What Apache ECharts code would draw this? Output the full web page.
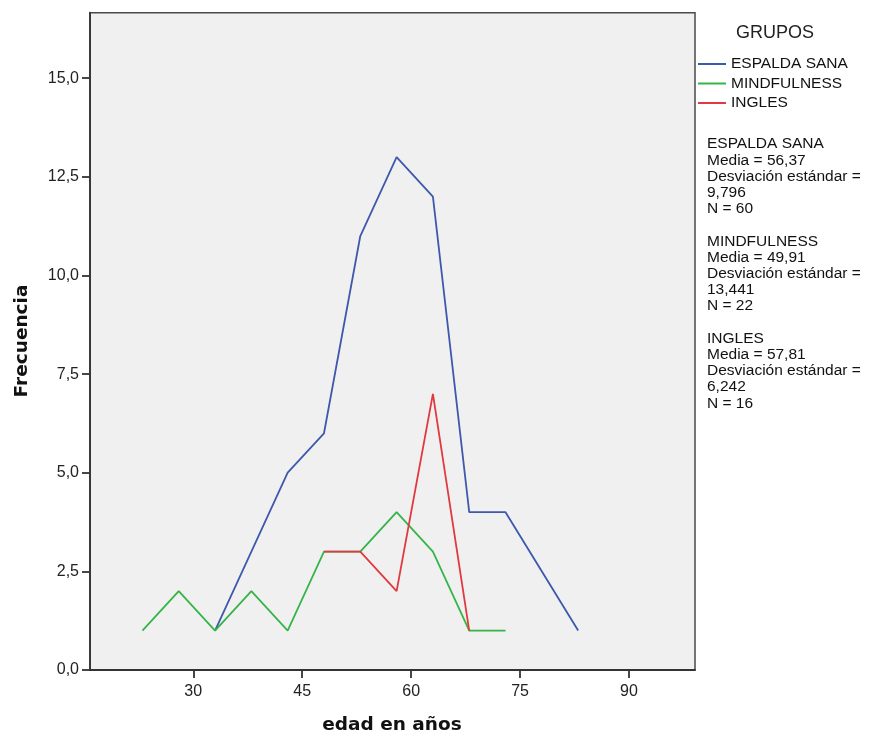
<!DOCTYPE html>
<html>
<head>
<meta charset="utf-8">
<script src="https://cdn.jsdelivr.net/npm/echarts@6/dist/echarts.min.js"></script>
<style>html,body{margin:0;padding:0;background:#fff}#c{width:873px;height:738px}</style>
</head>
<body>
<div id="c"></div>
<script>
// Age bin midpoints (edad en años)
var ageBins = [23, 28, 33, 38, 43, 48, 53, 58, 63, 68, 73, 78, 83];
// Frequencies per group (null = empty bin, not drawn)
var espaldaSana = [null, null, 1, 3, 5, 6, 11, 13, 12, 4, 4, null, 1];
var mindfulness = [1, 2, 1, 2, 1, 3, 3, 4, 3, 1, 1, null, null];
var ingles = [null, null, null, null, null, 3, 3, 2, 7, 1, null, null, null];
var groupNames = ['ESPALDA SANA', 'MINDFULNESS', 'INGLES'];
var xTicks = [30, 45, 60, 75, 90];
var yTicks = [0, 2.5, 5, 7.5, 10, 12.5, 15];
var statsLines = [
  'ESPALDA SANA', 'Media = 56,37', 'Desviación estándar =', '9,796', 'N = 60', '',
  'MINDFULNESS', 'Media = 49,91', 'Desviación estándar =', '13,441', 'N = 22', '',
  'INGLES', 'Media = 57,81', 'Desviación estándar =', '6,242', 'N = 16'
];

function pairs(vals) {
  var out = [];
  for (var i = 0; i < ageBins.length; i++) {
    if (vals[i] !== null) out.push([ageBins[i], vals[i]]);
  }
  return out;
}

var chart = echarts.init(document.getElementById('c'), null, {renderer: 'canvas'});
var font = '"Liberation Sans", Arial, sans-serif';
var colors = ['#3E58AC', '#35B548', '#E0393E'];

chart.setOption({
  animation: false,
  backgroundColor: '#ffffff',
  grid: {
    left: 90, top: 12.7, right: 178, bottom: 68,
    show: true, backgroundColor: '#f0f0f0',
    borderColor: '#4a4a4a', borderWidth: 1.5
  },
  xAxis: {
    type: 'value', min: 15.78, max: 99.09,
    splitLine: {show: false},
    axisLine: {lineStyle: {color: '#333', width: 1.8}},
    axisTick: {show: true, length: 8, customValues: xTicks, lineStyle: {color: '#333', width: 1.8}},
    axisLabel: {customValues: xTicks, color: '#222', fontSize: 16, fontFamily: font, margin: 14}
  },
  yAxis: {
    type: 'value', min: 0, max: 16.66,
    splitLine: {show: false},
    axisLine: {show: true, lineStyle: {color: '#333', width: 1.8}},
    axisTick: {show: true, length: 8, customValues: yTicks, lineStyle: {color: '#333', width: 1.8}},
    axisLabel: {customValues: yTicks, color: '#222', fontSize: 16, fontFamily: font, margin: 11,
      formatter: function (v) { return v.toFixed(1).replace('.', ','); }}
  },
  legend: {
    orient: 'vertical', left: 693, top: 51,
    icon: 'rect', itemWidth: 28, itemHeight: 2, itemGap: 3.5,
    textStyle: {fontSize: 15.5, fontFamily: font, color: '#111'},
    data: groupNames
  },
  series: [
    {name: groupNames[0], type: 'line', data: pairs(espaldaSana), showSymbol: false, symbol: 'none',
      lineStyle: {color: colors[0], width: 1.8}, itemStyle: {color: colors[0]}},
    {name: groupNames[1], type: 'line', data: pairs(mindfulness), showSymbol: false, symbol: 'none',
      lineStyle: {color: colors[1], width: 1.8}, itemStyle: {color: colors[1]}},
    {name: groupNames[2], type: 'line', data: pairs(ingles), showSymbol: false, symbol: 'none',
      lineStyle: {color: colors[2], width: 1.8}, itemStyle: {color: colors[2]}}
  ],
  graphic: [
    {type: 'text', x: 775, y: 33, style: {text: 'GRUPOS', font: '18px ' + font, fill: '#222',
      textAlign: 'center', textVerticalAlign: 'middle'}},
    {type: 'text', x: 707, y: 136, style: {text: statsLines.join('\n'), font: '15.5px ' + font,
      fill: '#111', lineHeight: 16.2, textAlign: 'left', textVerticalAlign: 'top'}},
    {type: 'text', x: 22, y: 341, rotation: Math.PI / 2, style: {text: 'Frecuencia',
      font: 'bold 18.5px "DejaVu Sans", sans-serif', fill: '#111', textAlign: 'center', textVerticalAlign: 'middle'}},
    {type: 'text', x: 392, y: 725, style: {text: 'edad en años',
      font: 'bold 18.5px "DejaVu Sans", sans-serif', fill: '#111', textAlign: 'center', textVerticalAlign: 'middle'}}
  ]
});
</script>
</body>
</html>
